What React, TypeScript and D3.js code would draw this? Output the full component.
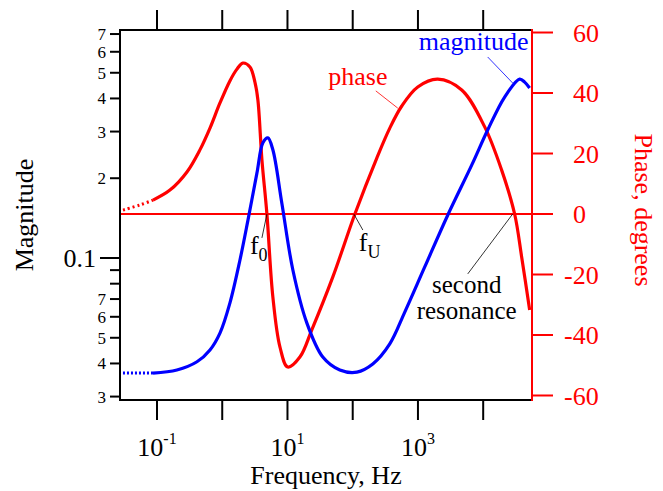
import React from "react";
import * as d3 from "d3";

// ---- data ----
const magFreq = [0.0301, 0.0869, 0.202, 0.41, 0.649, 0.923, 1.31, 1.87, 2.48, 3.4, 4.2, 5.01, 5.97, 8.2, 12.1, 19.8, 34.8, 63.4, 116, 203, 370, 628, 1271, 2858, 6664, 11720, 21330, 36220, 43230, 51540];
const magnitude = [0.0368, 0.0368, 0.0378, 0.0406, 0.045, 0.0521, 0.0676, 0.0983, 0.139, 0.209, 0.272, 0.284, 0.256, 0.161, 0.0901, 0.0569, 0.0423, 0.0378, 0.0371, 0.0398, 0.0474, 0.0625, 0.0925, 0.145, 0.224, 0.304, 0.405, 0.473, 0.461, 0.438];

const phaseFreq = [0.0301, 0.055, 0.0869, 0.158, 0.288, 0.455, 0.649, 0.923, 1.31, 1.68, 2.07, 2.66, 3.17, 3.52, 4.06, 4.84, 5.97, 7.66, 10.1, 15.5, 23.6, 49.6, 108, 234, 370, 565, 993, 2009, 4688, 10550, 19190, 30340, 38870, 51540];
const phase = [1.3, 3.0, 4.6, 7.9, 13.9, 21.2, 28.4, 36.7, 44.0, 47.9, 49.9, 48.6, 43.6, 37.7, 17.9, 0, -27.4, -43.9, -50.6, -47.3, -38.3, -20.8, 0, 18.5, 28.4, 35.7, 42.0, 44.6, 41.0, 28.8, 14.5, 0, -14.2, -31.7];

const magTicks = [0.7, 0.6, 0.5, 0.4, 0.3, 0.2, 0.1, 0.09, 0.08, 0.07, 0.06, 0.05, 0.04, 0.03];
const magTickLabels = ["7", "6", "5", "4", "3", "2", "0.1", "", "", "7", "6", "5", "4", "3"];
const phaseTicks = [60, 40, 20, 0, -20, -40, -60];
const freqTicks = [0.1, 1, 10, 100, 1000, 10000];
const freqTickExp = ["-1", "", "1", "", "3", ""];

const W = 663, H = 491;
const L = 120, R = 532, T = 30, B = 400;
const RED = "#ff0000", BLUE = "#0000ff";
const FONT = '"Liberation Serif", "Times New Roman", serif';
const BIG = 26;

const x = d3.scaleLog().domain([0.0271, 56000]).range([L, R]);
const yMag = d3.scaleLog().domain([0.02912, 0.725]).range([B, T]);
const yPh = d3.scaleLinear().domain([-61.49, 60.83]).range([B, T]);

export default function App() {
  const magPts: [number, number][] = magFreq.map((f, i) => [x(f), yMag(magnitude[i])]);
  const phPts: [number, number][] = phaseFreq.map((f, i) => [x(f), yPh(phase[i])]);
  const line = d3.line().curve(d3.curveCatmullRom.alpha(0.5));
  const magDot = line(magPts.slice(0, 2)) || "";
  const magSolid = line(magPts.slice(1)) || "";
  const phDot = line(phPts.slice(0, 3)) || "";
  const phSolid = line(phPts.slice(2)) || "";

  return (
    <svg width={W} height={H} style={{ position: "absolute", left: 0, top: 0, background: "#fff" }} fontFamily={FONT}>
      {/* zero phase line */}
      <line x1={L} x2={R} y1={yPh(0)} y2={yPh(0)} stroke={RED} strokeWidth={2} />

      {/* curves */}
      <path d={phDot} fill="none" stroke={RED} strokeWidth={3} strokeDasharray="2 3" />
      <path d={phSolid} fill="none" stroke={RED} strokeWidth={3.2} />
      <path d={magDot} fill="none" stroke={BLUE} strokeWidth={3} strokeDasharray="2 2" />
      <path d={magSolid} fill="none" stroke={BLUE} strokeWidth={3.2} />

      {/* frame: left, bottom, top */}
      <line x1={L} x2={L} y1={T} y2={B} stroke="#000" strokeWidth={2} />
      <line x1={L - 1} x2={R + 1} y1={B} y2={B} stroke="#000" strokeWidth={2} />
      <line x1={L - 1} x2={R + 1} y1={T} y2={T} stroke="#000" strokeWidth={2} />

      {/* left magnitude ticks */}
      {magTicks.map((v, i) => {
        const y = yMag(v);
        const major = magTickLabels[i] === "0.1";
        const len = major ? 20 : 10;
        return (
          <g key={"m" + i}>
            <line x1={L - len} x2={L} y1={y} y2={y} stroke="#000" strokeWidth={2} />
            {magTickLabels[i] && (
              <text x={L - len - 4} y={y} dy="0.35em" textAnchor="end" fontSize={major ? BIG : 17}>
                {magTickLabels[i]}
              </text>
            )}
          </g>
        );
      })}

      {/* bottom / top frequency ticks */}
      {freqTicks.map((f, i) => (
        <g key={"f" + i}>
          <line x1={x(f)} x2={x(f)} y1={B} y2={B + 20} stroke="#000" strokeWidth={2} />
          <line x1={x(f)} x2={x(f)} y1={T} y2={T - 20} stroke="#000" strokeWidth={2} />
          {freqTickExp[i] && (
            <text x={x(f)} y={456} textAnchor="middle" fontSize={BIG}>
              10<tspan fontSize={16} dy={-12}>{freqTickExp[i]}</tspan>
            </text>
          )}
        </g>
      ))}

      {/* right phase axis */}
      <line x1={R} x2={R} y1={T - 1} y2={B + 1} stroke={RED} strokeWidth={2} />
      {phaseTicks.map((p, i) => (
        <g key={"p" + i}>
          <line x1={R} x2={R + 21} y1={yPh(p)} y2={yPh(p)} stroke={RED} strokeWidth={2} />
          <text x={p < 0 ? 564 : 573} y={yPh(p)} dy="0.35em" fill={RED} fontSize={BIG}>
            {p < 0 ? "-" + Math.abs(p) : String(p)}
          </text>
        </g>
      ))}

      {/* axis titles */}
      <text x={326} y={484} textAnchor="middle" fontSize={BIG}>Frequency, Hz</text>
      <text transform={`translate(33,215) rotate(-90)`} textAnchor="middle" fontSize={BIG}>Magnitude</text>
      <text transform={`translate(635,210) rotate(90)`} textAnchor="middle" fontSize={BIG} fill={RED}>Phase, degrees</text>

      {/* annotations */}
      <line x1={x(11720)} y1={yMag(0.5735)} x2={x(28300)} y2={yMag(0.4574)} stroke={BLUE} strokeWidth={0.8} />
      <text x={x(7140)} y={yMag(0.609)} textAnchor="middle" fontSize={BIG} fill={BLUE}>magnitude</text>

      <line x1={x(226)} y1={yPh(40.7)} x2={x(491)} y2={yPh(35.0)} stroke={RED} strokeWidth={0.8} />
      <text x={x(120)} y={yPh(42.6)} textAnchor="middle" fontSize={BIG} fill={RED}>phase</text>

      <line x1={x(4.84)} y1={yPh(0)} x2={x(4.06)} y2={yPh(-7.9)} stroke="#000" strokeWidth={0.8} />
      <text x={x(2.66)} y={yPh(-13.2)} fontSize={BIG}>
        f<tspan fontSize={18} dy={7}>0</tspan>
      </text>

      <line x1={x(104)} y1={yPh(0)} x2={x(143)} y2={yPh(-5.3)} stroke="#000" strokeWidth={0.8} />
      <text x={x(124)} y={yPh(-12.2)} fontSize={BIG}>
        f<tspan fontSize={18} dy={7}>U</tspan>
      </text>

      <line x1={x(28300)} y1={yPh(0)} x2={x(5800)} y2={yPh(-19.8)} stroke="#000" strokeWidth={0.8} />
      <text x={x(5585)} y={yPh(-26.1)} textAnchor="middle" fontSize={25}>second</text>
      <text x={x(5585)} y={yPh(-34.6)} textAnchor="middle" fontSize={25}>resonance</text>
    </svg>
  );
}
